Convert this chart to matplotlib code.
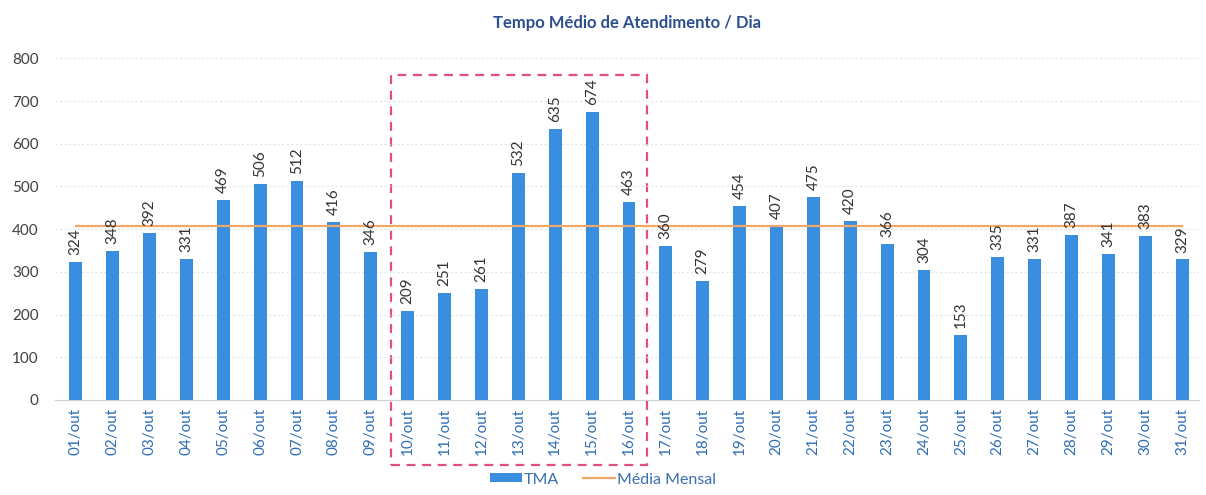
import matplotlib.pyplot as plt
from matplotlib.patches import Rectangle
from matplotlib.transforms import blended_transform_factory

# Dados de TMA por dia (outubro)
dias = ['01/out', '02/out', '03/out', '04/out', '05/out', '06/out', '07/out', '08/out',
        '09/out', '10/out', '11/out', '12/out', '13/out', '14/out', '15/out', '16/out',
        '17/out', '18/out', '19/out', '20/out', '21/out', '22/out', '23/out', '24/out',
        '25/out', '26/out', '27/out', '28/out', '29/out', '30/out', '31/out']
tma = [324, 348, 392, 331, 469, 506, 512, 416, 346, 209, 251, 261, 532, 635, 674, 463,
       360, 279, 454, 407, 475, 420, 366, 304, 153, 335, 331, 387, 341, 383, 329]
media_mensal = 408

plt.rcParams['font.family'] = ['Lato', 'DejaVu Sans']

fig = plt.figure(figsize=(12.06, 4.95), dpi=100)
ax = fig.add_axes([0.046, 0.192, 0.948, 0.69])

x = list(range(len(dias)))
barras = ax.bar(x, tma, width=0.35, color='#3a8ee0', zorder=2, label='TMA')
linha, = ax.plot([x[0], x[-1]], [media_mensal, media_mensal], color='#f0a868', lw=1.6,
                 zorder=3, label='Média Mensal')

for xi, v in zip(x, tma):
    ax.annotate(str(v), (xi, v), xytext=(0, 5), textcoords='offset points',
                rotation=90, ha='center', va='bottom', fontsize=11, color='#333333')

ax.set_xlim(-0.55, 30.45)
ax.set_ylim(0, 800)
ax.set_yticks(range(0, 801, 100))
ax.set_xticks(x)
ax.set_xticklabels(dias, rotation=90, fontsize=11, color='#2f6db5')
ax.tick_params(axis='y', labelsize=11, labelcolor='#404040', length=0, pad=12)
ax.tick_params(axis='x', length=0, pad=6)
ax.yaxis.grid(True, color='#dde6ef', lw=0.8, ls=(0, (2, 2)), zorder=0)
for s in ['top', 'right', 'left']:
    ax.spines[s].set_visible(False)
ax.spines['bottom'].set_color('#d0d0d0')

ax.set_title('Tempo Médio de Atendimento / Dia', fontsize=12, fontweight='bold',
             color='#2d4f8f', pad=22)

# destaque 10/out a 16/out
tr = blended_transform_factory(ax.transData, fig.transFigure)
ax.add_patch(Rectangle((8.54, 0.06), 6.96, 0.788, transform=tr, fill=False,
                       edgecolor='#e0507a', lw=1.6, ls=(0, (4, 3)), clip_on=False))

leg = fig.legend([barras, linha], ['TMA', 'Média Mensal'], loc='lower center',
                 bbox_to_anchor=(0.5, -0.012), ncol=2, frameon=False, fontsize=11.5,
                 handlelength=2.0, handleheight=0.5, handletextpad=0.1, columnspacing=1.5)
for t in leg.get_texts():
    t.set_color('#3a6fb0')

fig.savefig('out.png', dpi=100)
